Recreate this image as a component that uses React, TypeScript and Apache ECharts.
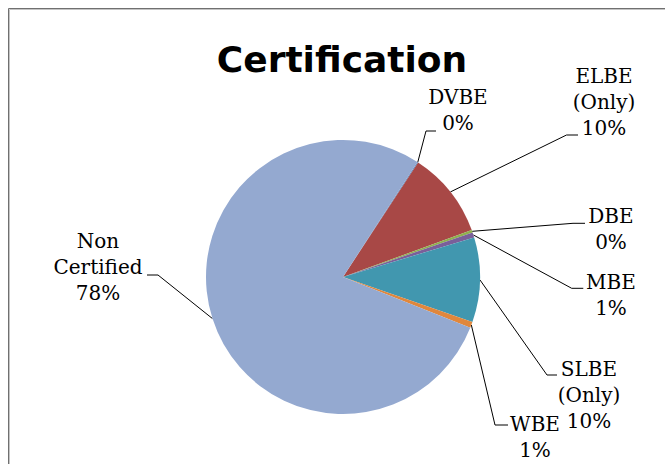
import React, { useEffect, useRef } from "react";
import * as echarts from "echarts";

const categories = ["DVBE", "ELBE (Only)", "DBE", "MBE", "SLBE (Only)", "WBE", "Non Certified"];
const values = [0.1, 10.2, 0.3, 0.6, 10.0, 0.7, 78.1];
const colors = ["#4A7EBB", "#A84846", "#8FB04F", "#7A5F9A", "#4197AF", "#E0873C", "#94A9D0"];

// label layout: text block centre, elbow of leader line, end of leader line
const labelPlacement = [
  { c: [458, 110], elbow: [426, 131], end: [436, 131] },
  { c: [604, 102], elbow: [566.5, 135], end: [578, 135] },
  { c: [611, 229], elbow: [573, 223.3], end: [585, 223.3] },
  { c: [611, 295], elbow: [571.7, 288.3], end: [583.3, 288.3] },
  { c: [589, 395], elbow: [547, 375], end: [557, 375] },
  { c: [535, 437], elbow: [495, 425], end: [508, 425] },
  { c: [98, 267], elbow: [158, 275], end: [147, 275] },
];

const CENTER = [343, 277];
const RADIUS = 137;
const START = 57.1;

export default function App() {
  const ref = useRef<HTMLDivElement>(null);
  useEffect(() => {
    if (!ref.current) return;
    const chart = echarts.init(ref.current, null, { renderer: "svg" });
    const total = values.reduce((a, b) => a + b, 0);
    const anchors: number[][] = [];
    let acc = 0;
    values.forEach((v) => {
      const mid = ((90 - START) + ((acc + v / 2) / total) * 360) * Math.PI / 180;
      anchors.push([CENTER[0] + RADIUS * Math.sin(mid), CENTER[1] - RADIUS * Math.cos(mid)]);
      acc += v;
    });
    chart.setOption({
      animation: false,
      title: {
        text: "Certification",
        left: 342,
        top: 41,
        textAlign: "center",
        padding: 0,
        textStyle: { fontFamily: "DejaVu Sans", fontWeight: "bold", fontSize: 36, lineHeight: 36, color: "#000" },
      },
      graphic: [
        { type: "rect", silent: true, shape: { x: 8.5, y: 8.5, width: 720, height: 520 }, style: { fill: "none", stroke: "#707070", lineWidth: 1 } },
        { type: "rect", silent: true, shape: { x: 9.5, y: 9.5, width: 720, height: 520 }, style: { fill: "none", stroke: "#c4c4c4", lineWidth: 1 } },
      ],
      series: [
        {
          type: "pie",
          center: CENTER,
          radius: RADIUS,
          startAngle: START,
          clockwise: true,
          avoidLabelOverlap: false,
          data: categories.map((name, i) => ({ name, value: values[i], itemStyle: { color: colors[i] } })),
          label: {
            show: true,
            position: "outside",
            fontFamily: "DejaVu Serif",
            fontSize: 20,
            lineHeight: 26,
            color: "#000",
            align: "center",
            formatter: (p: any) => `${p.name.replace(" ", "\n")}\n${Math.round(p.percent)}%`,
          },
          labelLine: { show: true, smooth: false, lineStyle: { color: "#000", width: 1 } },
          labelLayout: (p: any) => {
            const L = labelPlacement[p.dataIndex];
            const a = anchors[p.dataIndex];
            return {
              x: L.c[0],
              y: L.c[1],
              align: "center",
              verticalAlign: "middle",
              labelLinePoints: [a, L.elbow, L.end],
            };
          },
          emphasis: { disabled: true },
        },
      ],
    });
    return () => chart.dispose();
  }, []);
  return <div ref={ref} style={{ position: "absolute", left: 0, top: 0, width: 665, height: 464 }} />;
}
